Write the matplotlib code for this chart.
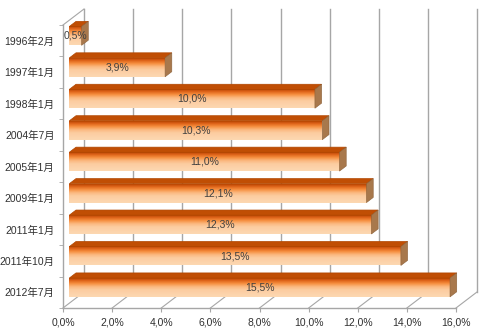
import numpy as np
import matplotlib.pyplot as plt
from matplotlib.patches import Polygon

# data
categories = ['1996年2月', '1997年1月', '1998年1月', '2004年7月', '2005年1月',
              '2009年1月', '2011年1月', '2011年10月', '2012年7月']
values = [0.5, 3.9, 10.0, 10.3, 11.0, 12.1, 12.3, 13.5, 15.5]
xticks = [0, 2, 4, 6, 8, 10, 12, 14, 16]

fonts = ['Liberation Sans Narrow', 'Liberation Sans', 'Noto Sans CJK JP']
plt.rcParams['font.family'] = fonts

fig = plt.figure(figsize=(5.0, 3.29), dpi=100)
ax = fig.add_axes([63 / 500, 21 / 329, 393 / 500, 283 / 329])
ax.set_xlim(0, 16)
ax.set_ylim(len(categories) - 0.5, -0.5)

# depth of the fake 3d box, in data units (about 21px right, 16px up)
dx = 21 / (393 / 16)
dy = 16 / (283 / len(categories))
f0, f1 = 0.30, 0.62      # front / back of the bars inside the depth
bh = 0.6                 # bar height

grid_c = '#a6a6a6'
ybot = len(categories) - 0.5
ytop = -0.5

# back wall grid lines and floor diagonals
for x in xticks:
    ax.plot([x + dx, x + dx], [ybot - dy, ytop - dy], color=grid_c, lw=1.0,
            clip_on=False, zorder=1)
    ax.plot([x, x + dx], [ybot, ybot - dy], color=grid_c, lw=0.8,
            clip_on=False, zorder=1)
# left wall top edge
ax.plot([0, dx], [ytop, ytop - dy], color=grid_c, lw=0.8, clip_on=False, zorder=1)

# gradient for the front face of the bars
stops = [(0.0, (184, 70, 4)), (0.12, (222, 98, 24)), (0.28, (246, 142, 62)),
         (0.45, (251, 183, 126)), (0.62, (252, 204, 160)), (1.0, (253, 216, 178))]
pos = np.linspace(0, 1, 64)
grad = np.stack([np.interp(pos, [s[0] for s in stops], [s[1][k] for s in stops])
                 for k in range(3)], axis=1) / 255.0
grad = grad[:, None, :]

for i, v in enumerate(values):
    x0 = f0 * dx
    yc = i - f0 * dy
    yt, yb = yc - bh / 2, yc + bh / 2
    # front face
    ax.imshow(grad, extent=(x0, x0 + v, yb, yt), aspect='auto',
              interpolation='bilinear', zorder=3)
    # top face
    ddx, ddy = (f1 - f0) * dx, (f1 - f0) * dy
    top = Polygon([(x0, yt), (x0 + v, yt), (x0 + v + ddx, yt - ddy), (x0 + ddx, yt - ddy)],
                  closed=True, facecolor='#c04e04', edgecolor='#b04600', lw=0.5,
                  zorder=4, clip_on=False)
    ax.add_patch(top)
    # right side face
    side = Polygon([(x0 + v, yb), (x0 + v, yt), (x0 + v + ddx, yt - ddy), (x0 + v + ddx, yb - ddy)],
                   closed=True, facecolor='#a8784c', edgecolor='#8c6038', lw=0.4,
                   zorder=4, clip_on=False)
    ax.add_patch(side)
    ax.text(x0 + v / 2, yc, ('%.1f%%' % v).replace('.', ','), ha='center', va='center',
            fontsize=7.5, color='#404040', zorder=5)

ax.set_xlim(0, 16)
ax.set_ylim(len(categories) - 0.5, -0.5)

ax.set_xticks(xticks)
ax.set_xticklabels([('%.1f%%' % x).replace('.', ',') for x in xticks])
ax.set_yticks(range(len(categories)))
ax.set_yticklabels(categories)
ax.set_yticks(np.arange(len(categories) + 1) - 0.5, minor=True)
ax.tick_params(axis='y', which='major', length=0, pad=6, labelsize=7.5, colors='#303030')
ax.tick_params(axis='y', which='minor', length=3, color=grid_c, direction='out')
ax.tick_params(axis='x', length=3, color=grid_c, pad=4, labelsize=7.5, labelcolor='#303030')

for s in ['top', 'right']:
    ax.spines[s].set_visible(False)
for s in ['left', 'bottom']:
    ax.spines[s].set_color(grid_c)
    ax.spines[s].set_linewidth(1.0)
ax.patch.set_alpha(0)

fig.savefig('out.png', dpi=100)
